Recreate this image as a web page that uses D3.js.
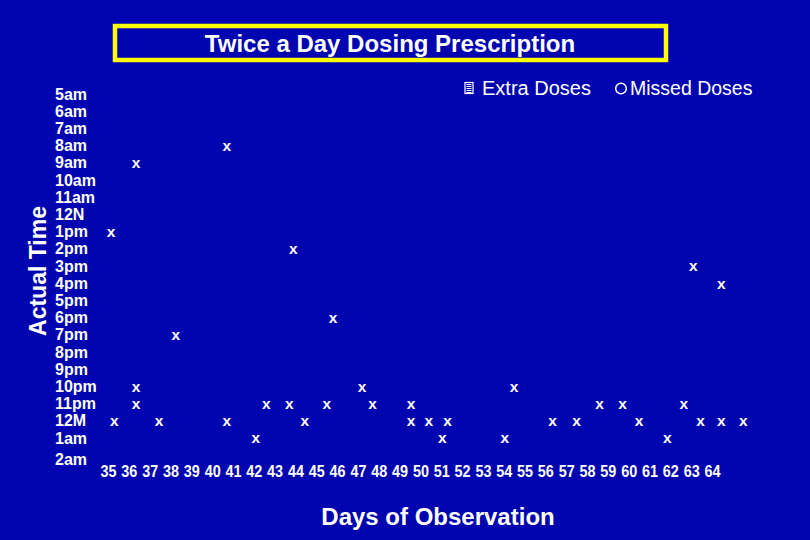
<!DOCTYPE html>
<html>
<head>
<meta charset="utf-8">
<script src="https://cdn.jsdelivr.net/npm/d3@7"></script>
<style>
  body { margin: 0; background: #0005af; }
  svg { display: block; font-family: "Liberation Sans", Arial, sans-serif; }
</style>
</head>
<body>
<div id="chart"></div>
<script>
// Tick labels
var times = ["5am", "6am", "7am", "8am", "9am", "10am", "11am", "12N", "1pm", "2pm", "3pm",
             "4pm", "5pm", "6pm", "7pm", "8pm", "9pm", "10pm", "11pm", "12M", "1am", "2am"];
var days = d3.range(35, 65);

// Actual dose times (day of observation, time of day)
var doseDay  = [40.7, 36.35, 35.15, 43.9, 63.1, 64.45, 45.8, 38.25,
                36.35, 47.2, 54.5,
                36.35, 42.6, 43.7, 45.5, 47.7, 49.55, 58.6, 59.7, 62.65,
                35.3, 37.45, 40.7, 44.45, 49.55, 50.4, 51.3, 56.35, 57.5, 60.5, 63.45, 64.45, 65.5,
                42.1, 51.05, 54.05, 61.85];
var doseTime = ["8am", "9am", "1pm", "2pm", "3pm", "4pm", "6pm", "7pm",
                "10pm", "10pm", "10pm",
                "11pm", "11pm", "11pm", "11pm", "11pm", "11pm", "11pm", "11pm", "11pm",
                "12M", "12M", "12M", "12M", "12M", "12M", "12M", "12M", "12M", "12M", "12M", "12M", "12M",
                "1am", "1am", "1am", "1am"];

var legendLabels = ["Extra Doses", "Missed Doses"];

var width = 810, height = 540;

var svg = d3.select("#chart")
  .append("svg")
    .attr("width", width)
    .attr("height", height);

svg.append("rect")
  .attr("width", width)
  .attr("height", height)
  .attr("fill", "#0005af");

// Title box
svg.append("rect")
  .attr("x", 115).attr("y", 26)
  .attr("width", 551).attr("height", 34)
  .attr("fill", "none")
  .attr("stroke", "#ffff00")
  .attr("stroke-width", 4.5);

svg.append("text")
  .attr("x", 390).attr("y", 51.5)
  .attr("text-anchor", "middle")
  .attr("fill", "white")
  .attr("font-size", 24)
  .attr("font-weight", "bold")
  .text("Twice a Day Dosing Prescription");

// Scales
var x = d3.scaleLinear()
  .domain([35, 64])
  .range([108, 712]);

var y = d3.scalePoint()
  .domain(times)
  .range([94, 455.2]);

// X axis (labels only, squeezed a bit like the original)
var xAxis = svg.append("g")
  .attr("transform", "translate(0,466)")
  .call(d3.axisBottom(x).tickValues(days).tickFormat(d3.format("d")).tickSize(0).tickPadding(0));
xAxis.select(".domain").remove();
xAxis.selectAll("text")
  .attr("fill", "white")
  .attr("font-size", 16)
  .attr("font-weight", "bold")
  .attr("font-family", "Liberation Sans, Arial, sans-serif")
  .attr("transform", "scale(0.9,1)");

// Y axis (left aligned labels)
var yAxis = svg.append("g")
  .attr("transform", "translate(55,0)")
  .call(d3.axisRight(y).tickSize(0).tickPadding(0));
yAxis.select(".domain").remove();
yAxis.selectAll("text")
  .attr("fill", "white")
  .attr("font-size", 16)
  .attr("font-weight", "bold")
  .attr("font-family", "Liberation Sans, Arial, sans-serif");
yAxis.selectAll("text")
  .filter(function(d) { return d === "2am"; })
  .attr("y", 4);

// Axis titles
svg.append("text")
  .attr("x", 438).attr("y", 525)
  .attr("text-anchor", "middle")
  .attr("fill", "white")
  .attr("font-size", 24)
  .attr("font-weight", "bold")
  .text("Days of Observation");

svg.append("text")
  .attr("transform", "translate(46,271) rotate(-90)")
  .attr("text-anchor", "middle")
  .attr("fill", "white")
  .attr("font-size", 23)
  .attr("font-weight", "bold")
  .text("Actual Time");

// Dose marks
svg.append("g")
  .selectAll("text")
  .data(doseDay)
  .enter()
  .append("text")
    .attr("x", function(d) { return x(d); })
    .attr("y", function(d, i) { return y(doseTime[i]); })
    .attr("dy", "0.35em")
    .attr("text-anchor", "middle")
    .attr("fill", "white")
    .attr("font-size", 15.5)
    .attr("font-weight", "bold")
    .text("x");

// Legend
var leg = svg.append("g");
leg.append("rect")
  .attr("x", 465).attr("y", 82.5)
  .attr("width", 8).attr("height", 11)
  .attr("fill", "none")
  .attr("stroke", "white")
  .attr("stroke-width", 1.2);
leg.selectAll("line")
  .data(d3.range(5))
  .enter()
  .append("line")
    .attr("x1", 466.5).attr("x2", 471.5)
    .attr("y1", function(d) { return 84.5 + d * 2; })
    .attr("y2", function(d) { return 84.5 + d * 2; })
    .attr("stroke", "white")
    .attr("stroke-width", 1);
leg.append("text")
  .attr("x", 482).attr("y", 95)
  .attr("fill", "white")
  .attr("font-size", 20)
  .text(legendLabels[0]);
leg.append("circle")
  .attr("cx", 621).attr("cy", 88.5)
  .attr("r", 5.3)
  .attr("fill", "none")
  .attr("stroke", "white")
  .attr("stroke-width", 1.5);
leg.append("text")
  .attr("x", 630).attr("y", 95)
  .attr("fill", "white")
  .attr("font-size", 19.5)
  .text(legendLabels[1]);
</script>
</body>
</html>
